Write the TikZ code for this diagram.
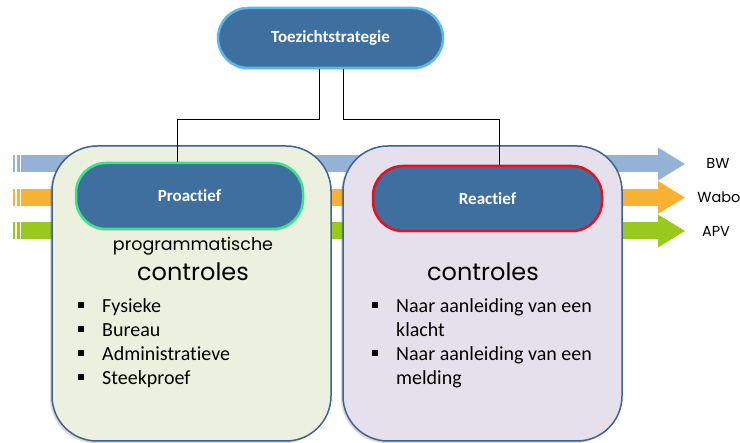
\documentclass[tikz,border=0pt]{standalone}
\usepackage{fontspec}
\setmainfont{Carlito}[Ligatures=NoCommon,RawFeature={-liga;-clig;-calt;-dlig}]
\newfontfamily\handfont{Poppins}
\usetikzlibrary{shadows}

\definecolor{capsulefill}{HTML}{3F6F9F}
\definecolor{topedge}{HTML}{5BB8EA}
\definecolor{proedge}{HTML}{3BE38F}
\definecolor{reaedge}{HTML}{E8101E}
\definecolor{paneledge}{HTML}{3D6392}
\definecolor{greenpanel}{HTML}{EBF1DE}
\definecolor{lilacpanel}{HTML}{E5E0EC}
\definecolor{bwband}{HTML}{95B3D7}
\definecolor{waboband}{HTML}{F9B233}
\definecolor{apvband}{HTML}{99C91C}

\newcommand{\listbullet}{\raisebox{5pt}{\rule{6pt}{6pt}}}

\begin{document}
\begin{tikzpicture}[x=1pt,y=-1pt]

    \tikzset{
      capsule/.style={
        fill=capsulefill,
        line width=2.5pt,
        rounded corners=30pt,
        text=white,
        font=\bfseries\fontsize{17}{20}\selectfont,
        drop shadow={shadow xshift=0pt,shadow yshift=-2pt,opacity=0.25},
      },
      panel/.style={
        draw=paneledge,
        line width=1.5pt,
        rounded corners=45pt,
        drop shadow={shadow xshift=-2pt,shadow yshift=-2pt,opacity=0.3},
      },
      link/.style={black,line width=0.8pt},
      tag/.style={font=\handfont\fontsize{14.5}{17}\selectfont},
      hand/.style={font=\handfont\fontsize{17.5}{20}\selectfont,anchor=base},
      bigHand/.style={font=\handfont\fontsize{24}{28}\selectfont,anchor=base},
      itemlist/.style={inner sep=0pt,anchor=base west,font=\fontsize{20}{24}\selectfont},
    }
    \useasboundingbox (0,0) rectangle (740,443);

	% bands with arrow heads
	\foreach \col/\y in {bwband/164,waboband/197.5,apvband/231}{
	  \fill[\col] (13,\y-8.5) rectangle (15,\y+8.5);
	  \fill[\col] (16.5,\y-8.5) rectangle (19.5,\y+8.5);
	  \fill[\col] (21,\y-8.5) rectangle (658,\y+8.5);
	  \fill[\col] (658,\y-16.5) -- (685,\y) -- (658,\y+16.5) -- cycle;
	}
	\node[tag] (bw) at (718,163) {BW};
	\node[tag] (wabo) at (719,197) {Wabo};
	\node[tag] (apv) at (716,231) {APV};

	% panels
	\draw[panel,fill=greenpanel] (52,146) rectangle (331,441);
	\draw[panel,fill=lilacpanel] (343,146) rectangle (622,441);

	% capsules
	\node[capsule,draw=topedge,minimum width=225pt,minimum height=60pt] (top) at (330.5,38) {Toezichtstrategie};
	\node[capsule,draw=proedge,minimum width=227pt,minimum height=66pt] (pro) at (189.5,196) {Proactief};
	\node[capsule,draw=reaedge,minimum width=229pt,minimum height=65pt] (rea) at (487.5,198.5) {Reactief};

	\draw[link] ([xshift=-11.5pt]top.south) -- ++(0,50) -| ([xshift=-12.5pt]pro.north);
	\draw[link] ([xshift=12.5pt]top.south) -- ++(0,50) -| ([xshift=11.5pt]rea.north);

	% texts in panels
	\node[hand] (prog) at (193,251) {programmatische};
	\node[bigHand] (proctrl) at (193,281) {controles};
	\node[bigHand] (reactrl) at (483,281) {controles};

	\node[itemlist] (prolist) at (78,313) {\begin{tabular}[t]{@{}l@{\hspace{18pt}}l@{}}
	  \listbullet & Fysieke\\
	  \listbullet & Bureau\\
	  \listbullet & Administratieve\\
	  \listbullet & Steekproef
	\end{tabular}};
	\node[itemlist] (realist) at (372,313) {\begin{tabular}[t]{@{}l@{\hspace{18pt}}l@{}}
	  \listbullet & Naar aanleiding van een\\
	              & klacht\\
	  \listbullet & Naar aanleiding van een\\
	              & melding
	\end{tabular}};

\end{tikzpicture}
\end{document}
